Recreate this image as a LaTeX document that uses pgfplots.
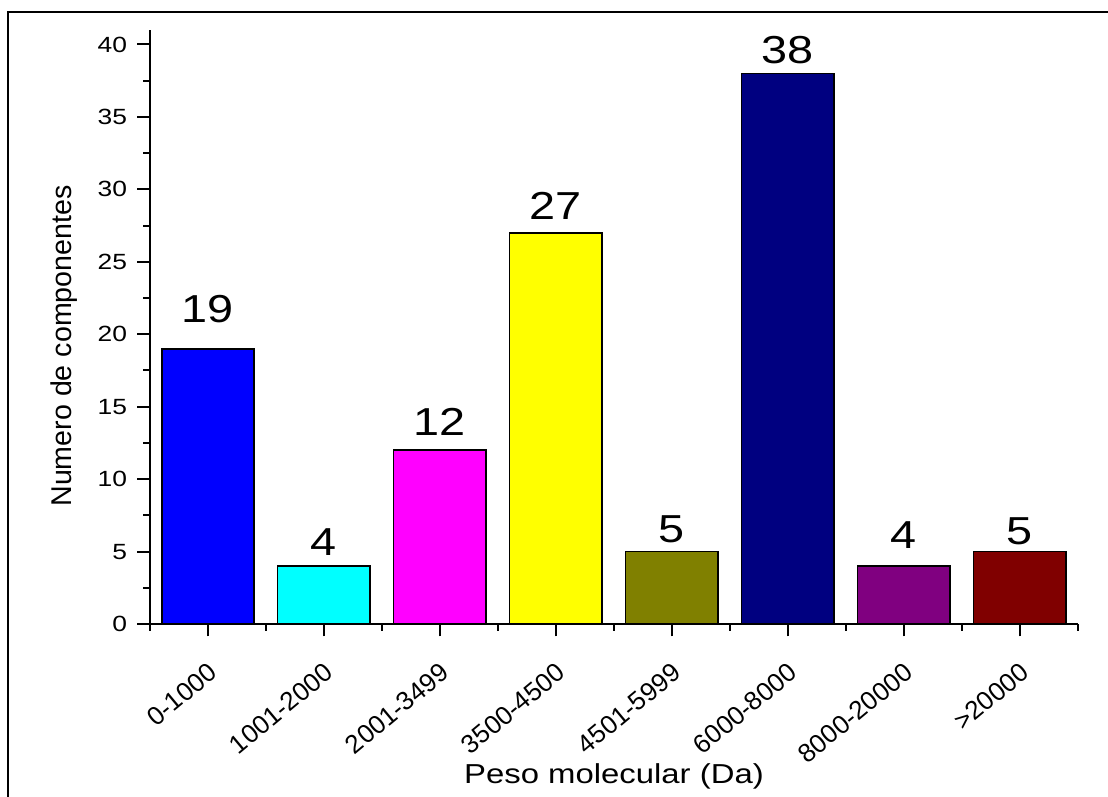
\documentclass[border=0pt]{standalone}
\usepackage{pgfplots}
\pgfplotsset{compat=1.18}
\usepackage{fontspec}
\setmainfont{Liberation Sans}

% Bar fill colours
\definecolor{cBlue}{RGB}{0,0,255}
\definecolor{cCyan}{RGB}{0,255,255}
\definecolor{cMagenta}{RGB}{255,0,255}
\definecolor{cYellow}{RGB}{255,255,0}
\definecolor{cOlive}{RGB}{128,128,0}
\definecolor{cNavy}{RGB}{0,0,128}
\definecolor{cPurple}{RGB}{128,0,128}
\definecolor{cMaroon}{RGB}{128,0,0}

\begin{document}
\begin{tikzpicture}[x=1pt,y=1pt]
\useasboundingbox (0,0) rectangle (554,398.5);
% outer frame
\draw[line width=1pt] (4,-20) rectangle (580,392.5);
\begin{axis}[
  at={(75pt,86.5pt)}, anchor=south west,
  scale only axis, width=464pt, height=297pt,
  xmin=-0.5, xmax=7.5, ymin=0, ymax=41,
  axis x line=bottom, axis y line=left,
  axis line style={-, line width=1pt, black},
  tick align=outside,
  major tick length=6.25pt, minor tick length=3.5pt,
  tick style={line width=1pt, black},
  ytick={0,5,...,40}, minor y tick num=1,
  xtick={0,...,7}, minor xtick={-0.5,0.5,...,7.5},
  xticklabels={0-1000,1001-2000,2001-3499,3500-4500,4501-5999,6000-8000,8000-20000,>20000},
  /pgf/number format/assume math mode=true,
  yticklabel style={font=\fontsize{11}{13}\selectfont, anchor=east, inner sep=0pt, xshift=-5pt, xscale=1.2},
  xticklabel style={font=\fontsize{13}{15}\selectfont, anchor=east, inner sep=0pt,
    xshift=2.5pt, yshift=-16pt, rotate=39.8},
  xlabel={Peso molecular (Da)},
  ylabel={Numero de componentes},
  every axis x label/.style={at={(axis description cs:0.5,-0.2677)}, anchor=base, font=\fontsize{13.7}{16}\selectfont, xscale=1.2},
  every axis y label/.style={at={(axis description cs:-0.0841,0.468)}, anchor=base, font=\fontsize{14.3}{16}\selectfont, rotate=90},
  ybar, bar width=0.8,
  mybar/.style 2 args={fill=#1, draw=black, line width=0.9pt, bar shift=0pt,
    every node near coord/.append style={yshift=#2}},
  nodes near coords,
  every node near coord/.append style={font=\fontsize{19.5}{22}\selectfont, text=black, anchor=south, inner sep=0pt, xscale=1.2},
]
\addplot[mybar={cBlue}{12.5pt}]   coordinates {(0,19)};
\addplot[mybar={cCyan}{5pt}]      coordinates {(1,4)};
\addplot[mybar={cMagenta}{7pt}]   coordinates {(2,12)};
\addplot[mybar={cYellow}{6pt}]    coordinates {(3,27)};
\addplot[mybar={cOlive}{4pt}]     coordinates {(4,5)};
\addplot[mybar={cNavy}{4.5pt}]    coordinates {(5,38)};
\addplot[mybar={cPurple}{8.5pt}]  coordinates {(6,4)};
\addplot[mybar={cMaroon}{3pt}]    coordinates {(7,5)};
\end{axis}
\end{tikzpicture}
\end{document}
